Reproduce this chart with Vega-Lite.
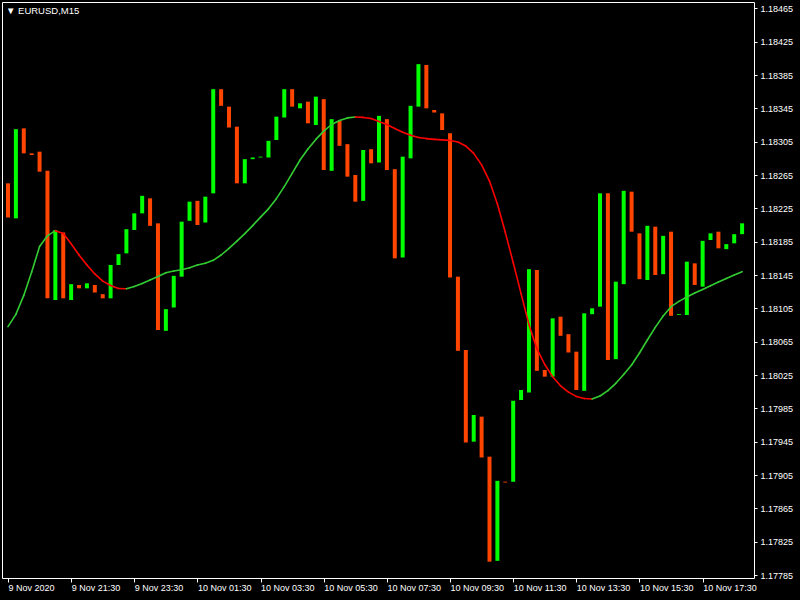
{
  "$schema": "https://vega.github.io/schema/vega-lite/v6.json",
  "width": 752,
  "height": 576,
  "autosize": {"type": "none"},
  "padding": {"left": 2, "top": 2, "right": 46, "bottom": 22},
  "background": "#000000",
  "title": {
    "text": "▼  EURUSD,M15",
    "anchor": "start",
    "frame": "group",
    "offset": 0,
    "dy": 21,
    "dx": 4,
    "baseline": "alphabetic",
    "color": "#ffffff",
    "font": "Liberation Sans",
    "fontSize": 9.5,
    "fontWeight": "normal"
  },
  "config": {
    "view": {"stroke": "#ffffff", "strokeWidth": 1},
    "axis": {
      "grid": false,
      "domain": false,
      "labelColor": "#ffffff",
      "tickColor": "#ffffff",
      "labelFont": "Liberation Sans",
      "labelFontSize": 9,
      "labelFlush": false,
      "labelOverlap": false,
      "title": null
    }
  },
  "data": {
    "values": [
      {"i": 0, "open": 1.18255, "close": 1.18214, "ma": 1.180830},
      {"i": 1, "open": 1.18213, "close": 1.18320, "ma": 1.180978},
      {"i": 2, "open": 1.18321, "close": 1.18291, "ma": 1.181205},
      {"i": 3, "open": 1.18291, "close": 1.18289, "ma": 1.181486},
      {"i": 4, "open": 1.18293, "close": 1.18269, "ma": 1.181791},
      {"i": 5, "open": 1.18270, "close": 1.18117, "ma": 1.181920},
      {"i": 6, "open": 1.18115, "close": 1.18199, "ma": 1.181982},
      {"i": 7, "open": 1.18196, "close": 1.18117, "ma": 1.181948},
      {"i": 8, "open": 1.18115, "close": 1.18134, "ma": 1.181824},
      {"i": 9, "open": 1.18133, "close": 1.18129, "ma": 1.181691},
      {"i": 10, "open": 1.18129, "close": 1.18135, "ma": 1.181569},
      {"i": 11, "open": 1.18133, "close": 1.18124, "ma": 1.181463},
      {"i": 12, "open": 1.18122, "close": 1.18117, "ma": 1.181377},
      {"i": 13, "open": 1.18117, "close": 1.18157, "ma": 1.181324},
      {"i": 14, "open": 1.18157, "close": 1.18170, "ma": 1.181288},
      {"i": 15, "open": 1.18171, "close": 1.18200, "ma": 1.181285},
      {"i": 16, "open": 1.18199, "close": 1.18219, "ma": 1.181312},
      {"i": 17, "open": 1.18219, "close": 1.18240, "ma": 1.181349},
      {"i": 18, "open": 1.18237, "close": 1.18204, "ma": 1.181391},
      {"i": 19, "open": 1.18207, "close": 1.18079, "ma": 1.181433},
      {"i": 20, "open": 1.18078, "close": 1.18104, "ma": 1.181478},
      {"i": 21, "open": 1.18106, "close": 1.18144, "ma": 1.181497},
      {"i": 22, "open": 1.18143, "close": 1.18209, "ma": 1.181514},
      {"i": 23, "open": 1.18210, "close": 1.18233, "ma": 1.181536},
      {"i": 24, "open": 1.18234, "close": 1.18205, "ma": 1.181570},
      {"i": 25, "open": 1.18208, "close": 1.18239, "ma": 1.181590},
      {"i": 26, "open": 1.18243, "close": 1.18368, "ma": 1.181626},
      {"i": 27, "open": 1.18368, "close": 1.18348, "ma": 1.181690},
      {"i": 28, "open": 1.18347, "close": 1.18322, "ma": 1.181770},
      {"i": 29, "open": 1.18323, "close": 1.18255, "ma": 1.181856},
      {"i": 30, "open": 1.18255, "close": 1.18284, "ma": 1.181946},
      {"i": 31, "open": 1.18284, "close": 1.18286, "ma": 1.182043},
      {"i": 32, "open": 1.18286, "close": 1.18287, "ma": 1.182145},
      {"i": 33, "open": 1.18286, "close": 1.18306, "ma": 1.182244},
      {"i": 34, "open": 1.18307, "close": 1.18335, "ma": 1.182366},
      {"i": 35, "open": 1.18334, "close": 1.18368, "ma": 1.182510},
      {"i": 36, "open": 1.18368, "close": 1.18347, "ma": 1.182670},
      {"i": 37, "open": 1.18345, "close": 1.18351, "ma": 1.182830},
      {"i": 38, "open": 1.18353, "close": 1.18327, "ma": 1.182962},
      {"i": 39, "open": 1.18325, "close": 1.18359, "ma": 1.183077},
      {"i": 40, "open": 1.18356, "close": 1.18271, "ma": 1.183177},
      {"i": 41, "open": 1.18270, "close": 1.18332, "ma": 1.183256},
      {"i": 42, "open": 1.18330, "close": 1.18300, "ma": 1.183304},
      {"i": 43, "open": 1.18302, "close": 1.18263, "ma": 1.183335},
      {"i": 44, "open": 1.18265, "close": 1.18233, "ma": 1.183346},
      {"i": 45, "open": 1.18234, "close": 1.18295, "ma": 1.183341},
      {"i": 46, "open": 1.18296, "close": 1.18279, "ma": 1.183327},
      {"i": 47, "open": 1.18280, "close": 1.18336, "ma": 1.183293},
      {"i": 48, "open": 1.18332, "close": 1.18271, "ma": 1.183256},
      {"i": 49, "open": 1.18272, "close": 1.18165, "ma": 1.183209},
      {"i": 50, "open": 1.18166, "close": 1.18287, "ma": 1.183164},
      {"i": 51, "open": 1.18285, "close": 1.18348, "ma": 1.183126},
      {"i": 52, "open": 1.18347, "close": 1.18398, "ma": 1.183101},
      {"i": 53, "open": 1.18397, "close": 1.18345, "ma": 1.183087},
      {"i": 54, "open": 1.18343, "close": 1.18340, "ma": 1.183077},
      {"i": 55, "open": 1.18339, "close": 1.18319, "ma": 1.183071},
      {"i": 56, "open": 1.18315, "close": 1.18142, "ma": 1.183065},
      {"i": 57, "open": 1.18143, "close": 1.18054, "ma": 1.183045},
      {"i": 58, "open": 1.18055, "close": 1.17944, "ma": 1.182997},
      {"i": 59, "open": 1.17945, "close": 1.17977, "ma": 1.182910},
      {"i": 60, "open": 1.17975, "close": 1.17926, "ma": 1.182772},
      {"i": 61, "open": 1.17927, "close": 1.17801, "ma": 1.182577},
      {"i": 62, "open": 1.17802, "close": 1.17898, "ma": 1.182303},
      {"i": 63, "open": 1.17897, "close": 1.17896, "ma": 1.181962},
      {"i": 64, "open": 1.17897, "close": 1.17994, "ma": 1.181600},
      {"i": 65, "open": 1.17995, "close": 1.18007, "ma": 1.181226},
      {"i": 66, "open": 1.18004, "close": 1.18152, "ma": 1.180854},
      {"i": 67, "open": 1.18151, "close": 1.18030, "ma": 1.180566},
      {"i": 68, "open": 1.18031, "close": 1.18023, "ma": 1.180376},
      {"i": 69, "open": 1.18023, "close": 1.18093, "ma": 1.180230},
      {"i": 70, "open": 1.18095, "close": 1.18072, "ma": 1.180120},
      {"i": 71, "open": 1.18074, "close": 1.18052, "ma": 1.180044},
      {"i": 72, "open": 1.18053, "close": 1.18007, "ma": 1.179993},
      {"i": 73, "open": 1.18006, "close": 1.18099, "ma": 1.179968},
      {"i": 74, "open": 1.18098, "close": 1.18105, "ma": 1.179962},
      {"i": 75, "open": 1.18107, "close": 1.18243, "ma": 1.179998},
      {"i": 76, "open": 1.18243, "close": 1.18043, "ma": 1.180063},
      {"i": 77, "open": 1.18044, "close": 1.18137, "ma": 1.180150},
      {"i": 78, "open": 1.18134, "close": 1.18246, "ma": 1.180257},
      {"i": 79, "open": 1.18245, "close": 1.18197, "ma": 1.180370},
      {"i": 80, "open": 1.18195, "close": 1.18140, "ma": 1.180514},
      {"i": 81, "open": 1.18139, "close": 1.18204, "ma": 1.180670},
      {"i": 82, "open": 1.18203, "close": 1.18145, "ma": 1.180822},
      {"i": 83, "open": 1.18146, "close": 1.18192, "ma": 1.180958},
      {"i": 84, "open": 1.18197, "close": 1.18096, "ma": 1.181070},
      {"i": 85, "open": 1.18097, "close": 1.18098, "ma": 1.181134},
      {"i": 86, "open": 1.18097, "close": 1.18161, "ma": 1.181186},
      {"i": 87, "open": 1.18159, "close": 1.18133, "ma": 1.181233},
      {"i": 88, "open": 1.18131, "close": 1.18186, "ma": 1.181277},
      {"i": 89, "open": 1.18187, "close": 1.18195, "ma": 1.181322},
      {"i": 90, "open": 1.18197, "close": 1.18177, "ma": 1.181367},
      {"i": 91, "open": 1.18176, "close": 1.18182, "ma": 1.181409},
      {"i": 92, "open": 1.18183, "close": 1.18194, "ma": 1.181451},
      {"i": 93, "open": 1.18194, "close": 1.18207, "ma": 1.181490}
    ]
  },
  "layer": [
    {
      "mark": {"type": "bar", "width": 4, "clip": true},
      "encoding": {
        "x": {
          "field": "i",
          "type": "quantitative",
          "scale": {"domain": [-0.125, 93.875], "nice": false, "zero": false},
          "axis": {
            "orient": "bottom",
            "values": [0, 8, 16, 24, 32, 40, 48, 56, 64, 72, 80, 88],
            "tickCount": 30,
            "labelExpr": "['9 Nov 2020','9 Nov 21:30','9 Nov 23:30','10 Nov 01:30','10 Nov 03:30','10 Nov 05:30','10 Nov 07:30','10 Nov 09:30','10 Nov 11:30','10 Nov 13:30','10 Nov 15:30','10 Nov 17:30'][round(datum.value/8)]",
            "labelAlign": "left",
            "labelBaseline": "top",
            "labelOverlap": false,
            "labelFlush": false,
            "tickSize": 4,
            "labelPadding": 1,
            "title": null
          }
        },
        "y": {
          "field": "open",
          "type": "quantitative",
          "scale": {"domain": [1.177814, 1.184726], "nice": false, "zero": false},
          "axis": {
            "orient": "right",
            "values": [1.17785, 1.17825, 1.17865, 1.17905, 1.17945, 1.17985, 1.18025, 1.18065, 1.18105, 1.18145, 1.18185, 1.18225, 1.18265, 1.18305, 1.18345, 1.18385, 1.18425, 1.18465],
            "tickCount": 30,
            "format": ".5f",
            "labelOverlap": false,
            "labelFlush": false,
            "labelBound": false,
            "tickSize": 3,
            "labelPadding": 3,
            "title": null
          }
        },
        "y2": {"field": "close"},
        "color": {
          "condition": {"test": "datum.close >= datum.open", "value": "#00ff00"},
          "value": "#ff4500"
        }
      }
    },
    {
      "transform": [
        {
          "window": [
            {"op": "lead", "field": "ma", "as": "ma2"},
            {"op": "lead", "field": "i", "as": "i2"}
          ],
          "sort": [{"field": "i", "order": "ascending"}]
        },
        {"filter": "isValid(datum.i2)"}
      ],
      "mark": {"type": "rule", "strokeWidth": 1.6, "strokeCap": "round", "clip": true},
      "encoding": {
        "x": {"field": "i", "type": "quantitative", "title": null},
        "x2": {"field": "i2"},
        "y": {"field": "ma", "type": "quantitative", "title": null},
        "y2": {"field": "ma2"},
        "color": {
          "condition": {"test": "datum.ma2 >= datum.ma", "value": "#32cd32"},
          "value": "#ff0000"
        }
      }
    }
  ]
}
